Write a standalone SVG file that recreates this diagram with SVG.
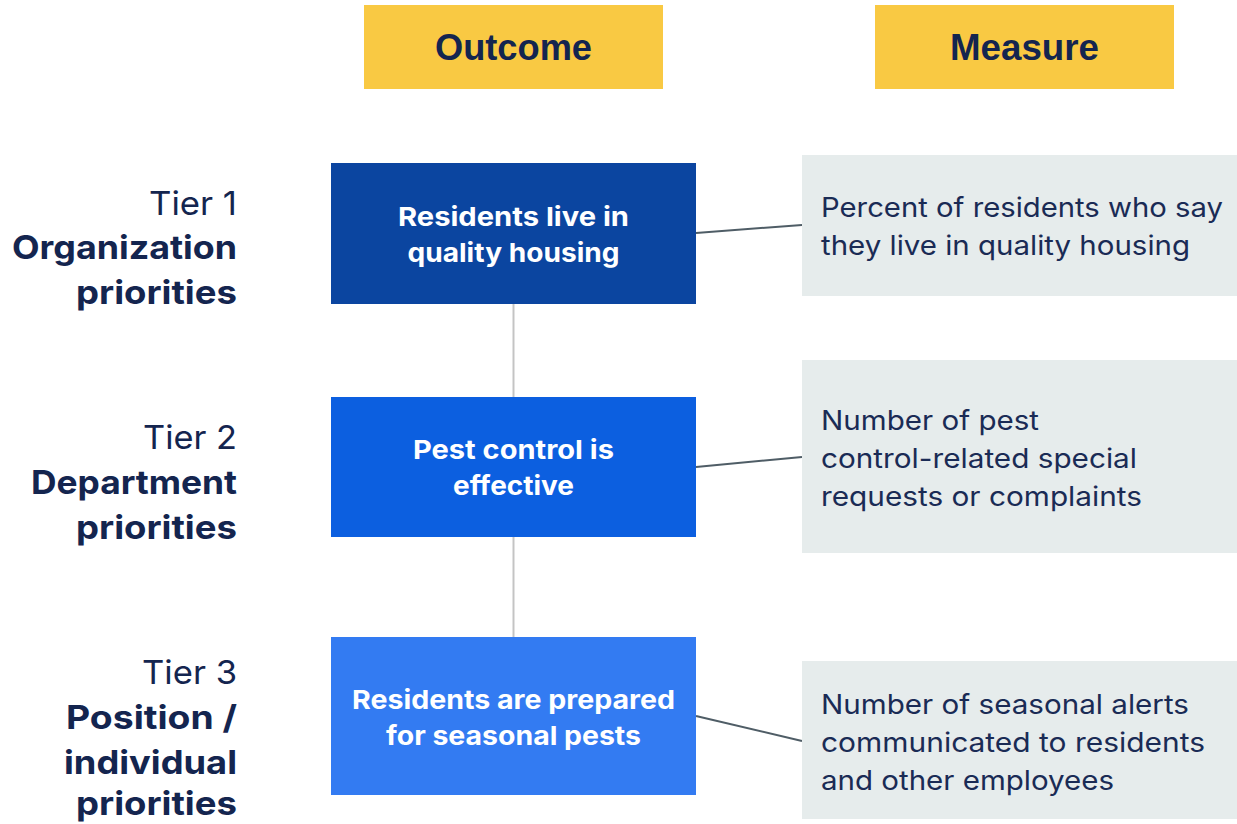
<svg xmlns="http://www.w3.org/2000/svg" width="1237" height="824" viewBox="0 0 1237 824">
<style>
.hdr{fill:#f9c943}
.hdrt{font-family:"Liberation Sans",Arial,sans-serif;font-weight:bold;font-size:37px;fill:#14254f;text-anchor:middle}
.tier{font-family:Inter,"Noto Sans",sans-serif;font-size:33px;fill:#14254f;text-anchor:end}
.tierb{font-family:Inter,"Noto Sans",sans-serif;font-size:33px;font-weight:bold;fill:#14254f;text-anchor:end}
.bt{font-family:Inter,"Noto Sans",sans-serif;font-size:26px;font-weight:bold;fill:#ffffff;text-anchor:middle}
.mbox{fill:#e6ecec}
.mt{font-family:Inter,"Noto Sans",sans-serif;font-size:27px;fill:#1a2b55}
.link{stroke:#4f5d66;stroke-width:2;fill:none}
.vlink{stroke:#c4c4c4;stroke-width:2;fill:none}
</style>
<rect width="1237" height="824" fill="#ffffff"/>
<g id="connectors">
<line class="vlink" x1="513.5" y1="304" x2="513.5" y2="397"/>
<line class="vlink" x1="513.5" y1="537" x2="513.5" y2="637"/>
<line class="link" x1="696" y1="233" x2="802" y2="225"/>
<line class="link" x1="696" y1="467" x2="802" y2="457"/>
<line class="link" x1="696" y1="716" x2="802" y2="741"/>
</g>
<g id="header-outcome">
<rect class="hdr" x="364" y="5" width="299" height="84"/>
<text class="hdrt" x="513.5" y="60" textLength="157" lengthAdjust="spacingAndGlyphs">Outcome</text>
</g>
<g id="header-measure">
<rect class="hdr" x="875" y="5" width="299" height="84"/>
<text class="hdrt" x="1024.5" y="60" textLength="149" lengthAdjust="spacingAndGlyphs">Measure</text>
</g>
<g id="tier1">
<text class="tier" x="237" y="215" textLength="88" lengthAdjust="spacingAndGlyphs">Tier 1</text>
<text class="tierb" x="237" y="259" textLength="225" lengthAdjust="spacingAndGlyphs">Organization</text>
<text class="tierb" x="237" y="304" textLength="161" lengthAdjust="spacingAndGlyphs">priorities</text>
</g>
<g id="tier2">
<text class="tier" x="237" y="449" textLength="94" lengthAdjust="spacingAndGlyphs">Tier 2</text>
<text class="tierb" x="237" y="494" textLength="206" lengthAdjust="spacingAndGlyphs">Department</text>
<text class="tierb" x="237" y="539" textLength="161" lengthAdjust="spacingAndGlyphs">priorities</text>
</g>
<g id="tier3">
<text class="tier" x="237" y="684" textLength="95" lengthAdjust="spacingAndGlyphs">Tier 3</text>
<text class="tierb" x="237" y="729" textLength="171" lengthAdjust="spacingAndGlyphs">Position /</text>
<text class="tierb" x="237" y="774" textLength="173" lengthAdjust="spacingAndGlyphs">individual</text>
<text class="tierb" x="237" y="815" textLength="161" lengthAdjust="spacingAndGlyphs">priorities</text>
</g>
<g id="outcome1">
<rect x="331" y="163" width="365" height="141" fill="#0b45a0"/>
<text class="bt" x="513.5" y="226" textLength="231" lengthAdjust="spacingAndGlyphs">Residents live in</text>
<text class="bt" x="513.5" y="262" textLength="212" lengthAdjust="spacingAndGlyphs">quality housing</text>
</g>
<g id="outcome2">
<rect x="331" y="397" width="365" height="140" fill="#0c5fe0"/>
<text class="bt" x="513.5" y="459" textLength="201" lengthAdjust="spacingAndGlyphs">Pest control is</text>
<text class="bt" x="513.5" y="495" textLength="121" lengthAdjust="spacingAndGlyphs">effective</text>
</g>
<g id="outcome3">
<rect x="331" y="637" width="365" height="158" fill="#337bf2"/>
<text class="bt" x="513.5" y="709" textLength="323" lengthAdjust="spacingAndGlyphs">Residents are prepared</text>
<text class="bt" x="513.5" y="745" textLength="255" lengthAdjust="spacingAndGlyphs">for seasonal pests</text>
</g>
<g id="measure1">
<rect class="mbox" x="802" y="155" width="435" height="141"/>
<text class="mt" x="821" y="217" textLength="402" lengthAdjust="spacingAndGlyphs">Percent of residents who say</text>
<text class="mt" x="821" y="255" textLength="369" lengthAdjust="spacingAndGlyphs">they live in quality housing</text>
</g>
<g id="measure2">
<rect class="mbox" x="802" y="360" width="435" height="193"/>
<text class="mt" x="821" y="430" textLength="218" lengthAdjust="spacingAndGlyphs">Number of pest</text>
<text class="mt" x="821" y="468" textLength="316" lengthAdjust="spacingAndGlyphs">control-related special</text>
<text class="mt" x="821" y="506" textLength="321" lengthAdjust="spacingAndGlyphs">requests or complaints</text>
</g>
<g id="measure3">
<rect class="mbox" x="802" y="661" width="435" height="158"/>
<text class="mt" x="821" y="714" textLength="368" lengthAdjust="spacingAndGlyphs">Number of seasonal alerts</text>
<text class="mt" x="821" y="752" textLength="384" lengthAdjust="spacingAndGlyphs">communicated to residents</text>
<text class="mt" x="821" y="790" textLength="293" lengthAdjust="spacingAndGlyphs">and other employees</text>
</g>
</svg>
